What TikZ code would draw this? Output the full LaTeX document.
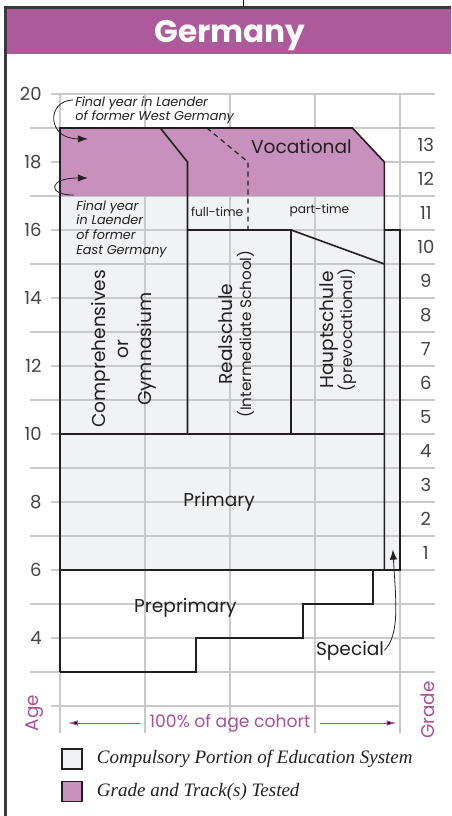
\documentclass[tikz,border=0pt]{standalone}
\usepackage{fontspec}
\setmainfont{Liberation Serif}
\newfontfamily\futura{Poppins}
\usetikzlibrary{positioning,arrows.meta}
\definecolor{headpurple}{HTML}{AD5A9B}
\definecolor{testpurple}{HTML}{C890BD}
\definecolor{compgrey}{HTML}{F1F2F3}
\definecolor{gridgrey}{HTML}{C9C9C9}
\definecolor{axispink}{HTML}{A9509A}
\definecolor{inkdark}{HTML}{231F20}
\definecolor{frameink}{HTML}{3A3A3A}
\begin{document}
\begin{tikzpicture}[x=0.5pt,y=-0.5pt,
    outline/.style={draw=inkdark,line width=0.8pt},
    gridline/.style={draw=gridgrey,line width=0.6pt},
    lbl/.style={font=\futura\fontsize{9.3}{11.5}\selectfont,text=inkdark,inner sep=0pt},
    sublbl/.style={font=\futura\fontsize{6.1}{7}\selectfont,text=inkdark,inner sep=0pt},
    note/.style={font=\futura\itshape\fontsize{6.4}{7.3}\selectfont,text=inkdark,inner sep=0pt,align=left,anchor=north west},
    agenum/.style={font=\futura\fontsize{9}{10}\selectfont,text=inkdark!85,inner sep=0pt},
    pinklbl/.style={font=\futura\fontsize{9.2}{10}\selectfont,text=axispink,inner sep=0pt},
    hook/.style={draw=inkdark,line width=0.4pt,-{Latex[length=5pt,width=3.6pt]}},
    pinkarrow/.style={draw=axispink,line width=0.5pt,-{Latex[length=5pt,width=2.8pt]}},
    keybox/.style={draw=inkdark,line width=0.6pt,minimum width=10pt,minimum height=10pt,inner sep=0pt},
    keytext/.style={font=\itshape\fontsize{9.5}{11}\selectfont,text=inkdark,inner sep=0pt}]
  \useasboundingbox (0,0) rectangle (451,816);

  \fill[headpurple] (7,9) rectangle (451,54);
  \node[font=\futura\bfseries\fontsize{15.6}{18}\selectfont,text=white,anchor=base] (title) at (230,42) {Germany};
  \draw[frameink,line width=1.5pt] (5.5,816) -- (5.5,7.5) -- (451,7.5);
  \draw[black,line width=0.5pt] (243,0) -- (243,6.5);

  \begin{scope}[shift={(30pt,-387pt)},x=1.7pt,y=17pt]
    \fill[compgrey] (0,6) rectangle (95.4,17);
    \fill[compgrey] (95.4,6) rectangle (100,16);
    \foreach \p in {0,25,...,100}
      \draw[gridline] (\p,20) -- (\p,1.2);
    \foreach \a in {4,6,...,20}
      \draw[gridline] (-2.65,\a) -- (110.3,\a);
    \foreach \a in {3,5,...,19}
      \draw[gridline] (-8.8,\a) -- (110.3,\a);
    \draw[gridline] (-2.65,2) -- (100,2);
    \fill[testpurple] (0,17) -- (0,19) -- (86,19) -- (95.4,18) -- (95.4,17) -- cycle;

    \draw[outline] (0,3) -- (0,19) -- (86,19) -- (95.4,18) -- (95.4,6);
    \draw[outline] (29.5,19) -- (37.5,18) -- (37.5,10);
    \draw[outline] (37.5,16) -- (68,16) -- (68,10);
    \draw[outline] (68,16) -- (95.4,15);
    \draw[outline] (0,10) -- (95.4,10);
    \draw[outline] (0,6) -- (100,6) -- (100,16) -- (95.4,16);
    \draw[outline] (92,6) -- (92,5) -- (71.5,5) -- (71.5,4) -- (40,4) -- (40,3) -- (0,3);
    \draw[outline,line width=0.6pt,dash pattern=on 2.5pt off 2pt] (43.2,19) -- (55.3,18) -- (55.3,16);

    \foreach \a in {4,6,...,20}
      \node[agenum,anchor=east] (age\a) at (-5.3,\a) {\a};
    \foreach \g in {1,...,13}
      \node[agenum] (grade\g) at (107.6,\g+5.5) {\g};

    \node[lbl,anchor=base] (vocational) at (71,18.26) {Vocational};
    \node[sublbl,anchor=base] (fulltime) at (46.2,16.41) {full-time};
    \node[sublbl,anchor=base] (parttime) at (76.3,16.5) {part-time};
    \node[lbl,rotate=90,align=center] (comp) at (18.8,12.5) {Comprehensives\\or\\Gymnasium};
    \node[lbl,rotate=90,align=center] (real) at (51.8,12.94)
      {Realschule\\[-2pt]{\fontsize{7.6}{8}\selectfont (Intermediate School)}};
    \node[lbl,rotate=90,align=center] (haupt) at (81.9,13.06)
      {Hauptschule\\[-2pt]{\fontsize{7.8}{8}\selectfont (prevocational)}};
    \node[lbl,anchor=base] (primary) at (46.8,7.88) {Primary};
    \node[lbl,anchor=base] (preprimary) at (36.9,4.74) {Preprimary};
    \node[lbl,anchor=base] (special) at (85.3,3.5) {Special};
    \coordinate (specialtip) at (97.9,6.6);
    \draw[hook] (special.east) .. controls (100,4.1) and (98.8,5.1) .. (specialtip);

    \node[note] (westnote) at (4.4,19.94) {Final year in Laender\\of former West Germany};
    \coordinate (westtip) at (8.2,18.68);
    \draw[hook] ([xshift=-1pt,yshift=-2pt]westnote.north west) .. controls +(-13pt,0) and +(-21pt,0) .. (westtip);
    \node[note] (eastnote) at (4.7,16.88) {Final year\\in Laender\\of former\\East Germany};
    \coordinate (easttip) at (8.2,17.53);
    \draw[hook] ([xshift=-1pt,yshift=2.5pt]eastnote.north west) .. controls +(-13.5pt,0) and +(-20pt,0) .. (easttip);

    \node[pinklbl,inner xsep=4.6pt,font=\futura\fontsize{8.6}{10}\selectfont] (cohort) at (50,1.5) {100\% of age cohort};
    \coordinate (cohortleft) at (2.3,1.5);
    \coordinate (cohortright) at (99,1.5);
    \path[pinkarrow] (cohort) edge (cohortleft)
                     (cohort) edge (cohortright);
    \node[pinklbl,rotate=90] (agetitle) at (-7.35,1.79) {Age};
    \node[pinklbl,rotate=90] (gradetitle) at (108.2,1.88) {Grade};
  \end{scope}

  \node[keybox,fill=compgrey] (key1) at (72,759) {};
  \node[keytext,right=7pt of key1] (keytext1) {Compulsory Portion of Education System};
  \node[keybox,fill=testpurple] (key2) at (72,791.5) {};
  \node[keytext,right=7pt of key2] (keytext2) {Grade and Track(s) Tested};
\end{tikzpicture}
\end{document}
